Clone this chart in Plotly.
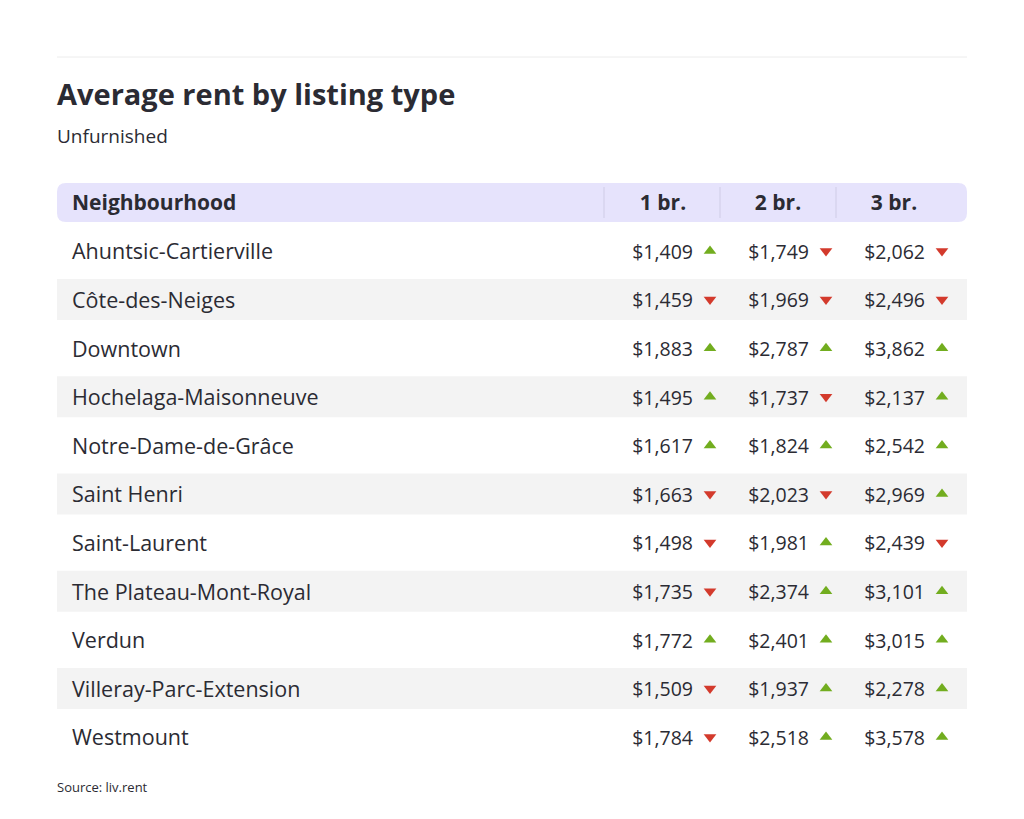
import plotly.graph_objects as go

neighbourhoods = ['Ahuntsic-Cartierville', 'Côte-des-Neiges', 'Downtown', 'Hochelaga-Maisonneuve',
                  'Notre-Dame-de-Grâce', 'Saint Henri', 'Saint-Laurent', 'The Plateau-Mont-Royal',
                  'Verdun', 'Villeray-Parc-Extension', 'Westmount']
rent_1br = [1409, 1459, 1883, 1495, 1617, 1663, 1498, 1735, 1772, 1509, 1784]
rent_2br = [1749, 1969, 2787, 1737, 1824, 2023, 1981, 2374, 2401, 1937, 2518]
rent_3br = [2062, 2496, 3862, 2137, 2542, 2969, 2439, 3101, 3015, 2278, 3578]
# 1 = up, 0 = down
trend_1br = [1, 0, 1, 1, 1, 0, 0, 0, 1, 0, 0]
trend_2br = [0, 0, 1, 0, 1, 0, 1, 1, 1, 1, 1]
trend_3br = [0, 0, 1, 1, 1, 1, 0, 1, 1, 1, 1]
headers = ['1 br.', '2 br.', '3 br.']

FONT = 'Open Sans'
DARK = '#2b2b33'
GREEN = '#72ad1f'
RED = '#d33a2c'

row_y = [251 + i * 48.6 for i in range(len(neighbourhoods))]
val_x = [693, 809, 925]
tri_x = [710, 826, 942]
head_x = [663, 778, 894]
TXT_DY = 3  # scatter text sits a little high

fig = go.Figure()

shapes = []
# top rule
shapes.append(dict(type='line', x0=57, x1=967, y0=57, y1=57, line=dict(color='#ececec', width=1)))
# header bar (rounded)
x0, x1, y0, y1, r = 57, 967, 183, 222, 9
shapes.append(dict(type='path', fillcolor='#e6e3fc', line=dict(width=0), layer='below',
                   path=f'M{x0+r},{y0} L{x1-r},{y0} Q{x1},{y0} {x1},{y0+r} L{x1},{y1-r} Q{x1},{y1} {x1-r},{y1} '
                        f'L{x0+r},{y1} Q{x0},{y1} {x0},{y1-r} L{x0},{y0+r} Q{x0},{y0} {x0+r},{y0} Z'))
for dx in [604, 720, 836]:
    shapes.append(dict(type='line', x0=dx, x1=dx, y0=187, y1=218, layer='below',
                       line=dict(color='#cfcce6', width=1)))
for i, y in enumerate(row_y):
    if i % 2 == 1:
        shapes.append(dict(type='rect', x0=57, x1=967, y0=y - 20.5, y1=y + 20.5,
                           fillcolor='#f3f3f3', line=dict(width=0), layer='below'))

# neighbourhood names
fig.add_trace(go.Scatter(x=[72] * len(neighbourhoods), y=[y + TXT_DY for y in row_y], mode='text',
                         text=neighbourhoods, textposition='middle right',
                         textfont=dict(family=FONT, size=21.5, color=DARK)))

for col, (rents, trends) in enumerate([(rent_1br, trend_1br), (rent_2br, trend_2br), (rent_3br, trend_3br)]):
    fig.add_trace(go.Scatter(x=[val_x[col]] * len(rents), y=[y + TXT_DY for y in row_y], mode='text',
                             text=[f'${v:,}' for v in rents], textposition='middle left',
                             textfont=dict(family=FONT, size=19.5, color=DARK)))
    fig.add_trace(go.Scatter(x=[tri_x[col]] * len(trends), y=row_y,
                             mode='markers',
                             marker=dict(symbol=['triangle-up' if t else 'triangle-down' for t in trends],
                                         size=11, color=[GREEN if t else RED for t in trends])))

fig.add_trace(go.Scatter(x=head_x, y=[202 + TXT_DY] * 3, mode='text', text=[f'<b>{h}</b>' for h in headers],
                         textposition='middle center', textfont=dict(family=FONT, size=21, color=DARK)))

annotations = [
    dict(x=55, y=93, text='<b>Average rent by listing type</b>', font=dict(family=FONT, size=29, color=DARK)),
    dict(x=55, y=136, text='Unfurnished', font=dict(family=FONT, size=19, color=DARK)),
    dict(x=70, y=202, text='<b>Neighbourhood</b>', font=dict(family=FONT, size=21, color=DARK)),
    dict(x=55, y=787, text='Source: liv.rent', font=dict(family=FONT, size=13, color=DARK)),
]
for a in annotations:
    a.update(xref='x', yref='y', xanchor='left', yanchor='middle', showarrow=False)

fig.update_layout(
    width=1024, height=819, margin=dict(l=0, r=0, t=0, b=0),
    paper_bgcolor='white', plot_bgcolor='white', showlegend=False,
    xaxis=dict(range=[8, 1032], visible=False, fixedrange=True),
    yaxis=dict(range=[827, 8], visible=False, fixedrange=True),
    shapes=shapes, annotations=annotations,
)
fig.write_html('out.html', config={'displayModeBar': False})
